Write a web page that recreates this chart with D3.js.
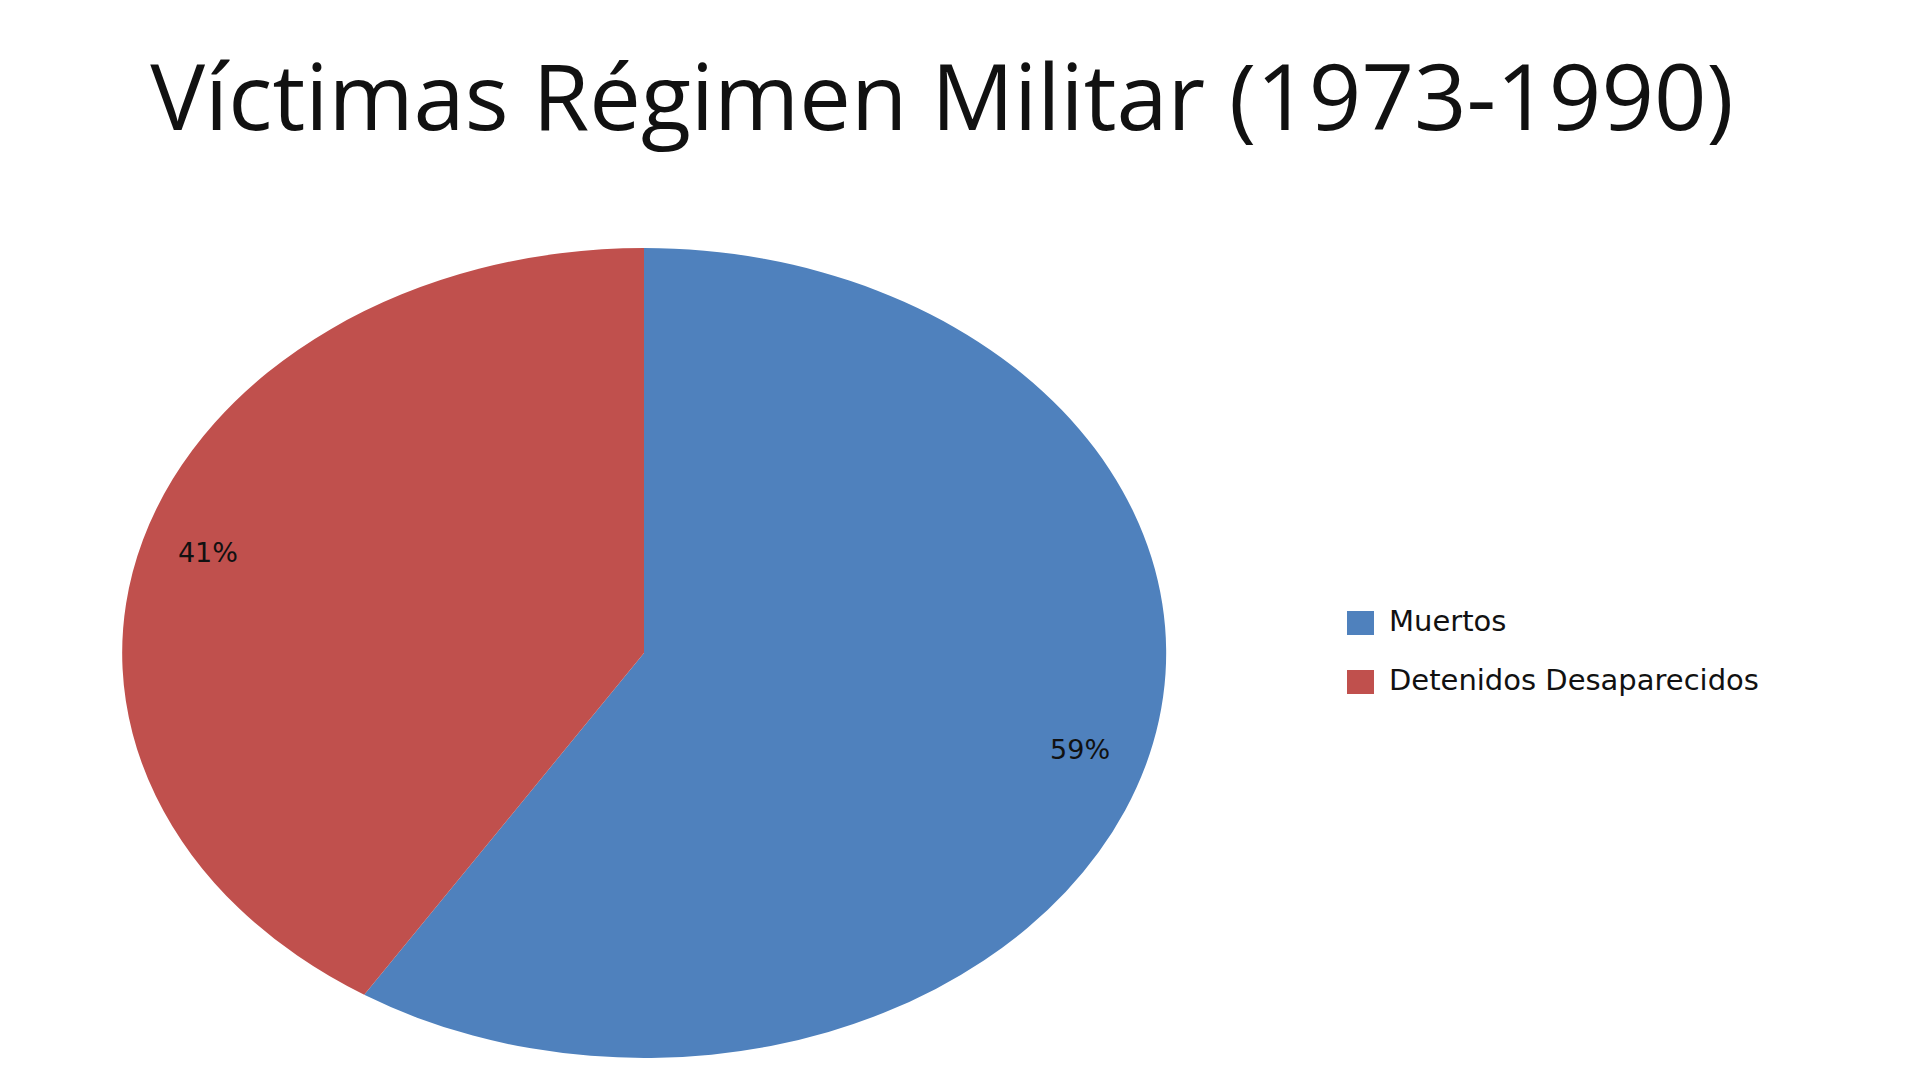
<!DOCTYPE html>
<html><head><meta charset="utf-8">
<script src="https://cdn.jsdelivr.net/npm/d3@7"></script>
<style>body{margin:0;background:#fff}</style></head>
<body><svg id="c" width="1920" height="1080"></svg>
<script>
const categories = ["Muertos", "Detenidos Desaparecidos"];
const values = [59, 41];
const labels = ["59%", "41%"];
const colors = ["#4F81BD", "#C0504D"];

const svg = d3.select("#c");
svg.append("text").attr("x", 942).attr("y", 130).attr("text-anchor", "middle")
  .attr("font-family", "Open Sans, Noto Sans, sans-serif").attr("font-size", 92)
  .attr("fill", "#111").text("Víctimas Régimen Militar (1973-1990)");

const cx = 644, cy = 653, rx = 522, ry = 405;
const pie = d3.pie().sort(null).value(d => d)(values);
const arc = d3.arc().innerRadius(0).outerRadius(1);
const g = svg.append("g").attr("transform", `translate(${cx},${cy}) scale(${rx},${ry})`);
g.selectAll("path").data(pie).join("path").attr("d", arc).attr("fill", (d, i) => colors[i]);

const labelArc = d3.arc().innerRadius(0.87).outerRadius(0.87);
svg.append("g").attr("transform", `translate(${cx},${cy})`).selectAll("text").data(pie).join("text")
  .attr("x", d => labelArc.centroid(d)[0] * rx)
  .attr("y", d => labelArc.centroid(d)[1] * ry)
  .attr("text-anchor", "middle").attr("dominant-baseline", "middle")
  .attr("font-family", "DejaVu Sans, sans-serif").attr("font-size", 27).attr("fill", "#111")
  .text((d, i) => labels[i]);

const lg = svg.append("g").attr("transform", "translate(1347,611)");
categories.forEach((c, i) => {
  lg.append("rect").attr("x", 0).attr("y", i * 59).attr("width", 27).attr("height", 24).attr("fill", colors[i]);
  lg.append("text").attr("x", 42).attr("y", i * 59 + 12).attr("dominant-baseline", "middle")
    .attr("font-family", "DejaVu Sans, sans-serif").attr("font-size", 29).attr("fill", "#111").text(c);
});
</script></body></html>
